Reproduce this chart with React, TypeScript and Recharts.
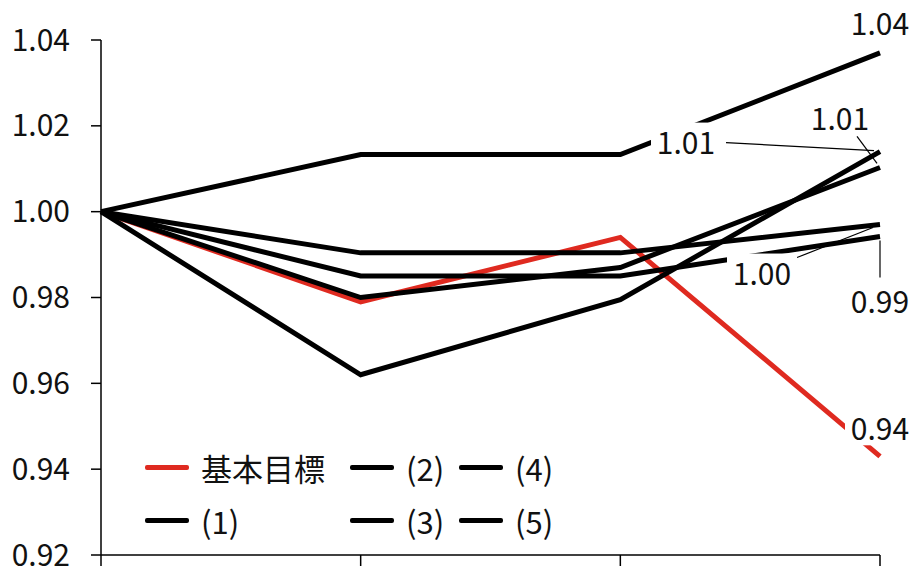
import { LineChart, Line, XAxis, YAxis, LabelList } from 'recharts'

const periods = ['P0', 'P1', 'P2', 'P3']
const seriesNames = ['基本目標', '(1)', '(2)', '(3)', '(4)', '(5)']
const baseTarget = [1.0, 0.979, 0.994, 0.943]
const case1 = [1.0, 1.0133, 1.0133, 1.037]
const case2 = [1.0, 0.962, 0.9795, 1.014]
const case3 = [1.0, 0.98, 0.987, 1.0103]
const case4 = [1.0, 0.9904, 0.9904, 0.997]
const case5 = [1.0, 0.985, 0.985, 0.9942]
const yTicks = [0.92, 0.94, 0.96, 0.98, 1.0, 1.02, 1.04]

const allSeries = [baseTarget, case1, case2, case3, case4, case5]
const colors = ['#df2a20', '#000', '#000', '#000', '#000', '#000']

const data = periods.map((p, i) => {
  const row: Record<string, string | number> = { period: p }
  allSeries.forEach((s, k) => (row['s' + k] = s[i]))
  return row
})

// where each end label sits relative to its point, plus leader line
// leader: [x1,y1] from label centre, [x2,y2] from the data point
const labelPos = [
  { dx: 0, dy: -29 },
  { dx: 0, dy: -31 },
  { dx: -194, dy: -11, leader: [40, 2, -6, -1] },
  { dx: -40, dy: -50, leader: [17, 19, -3, -4] },
  { dx: -118, dy: 47, leader: [35, -14, -7, 3] },
  { dx: 0, dy: 63, leader: [0, -22, 0, 4] },
]

const FONT = "'Noto Sans CJK JP', 'Noto Sans', sans-serif"

function endLabel(k: number) {
  return (props: any) => {
    const { x, y, value, index } = props
    if (index !== periods.length - 1) return null
    const p = labelPos[k]
    const cx = x + p.dx
    const cy = y + p.dy
    const w = 70
    const h = 36
    return (
      <g>
        {p.leader && (
          <line
            x1={cx + p.leader[0]}
            y1={cy + p.leader[1]}
            x2={x + p.leader[2]}
            y2={y + p.leader[3]}
            stroke="#000"
            strokeWidth={1.2}
          />
        )}
        <rect x={cx - w / 2} y={cy - h / 2} width={w} height={h} fill="#fff" />
        <text x={cx} y={cy} textAnchor="middle" dominantBaseline="central" fontSize={30} fontFamily={FONT} fill="#111">
          {Number(value).toFixed(2)}
        </text>
      </g>
    )
  }
}

const legendCols = [145, 350, 459]
const legendRows = [467, 520]

export default function App() {
  return (
    <div style={{ position: 'absolute', left: 0, top: 0, width: 913, height: 566, background: '#fff', overflow: 'hidden' }}>
      <LineChart width={913} height={566} data={data} margin={{ top: 40, right: 33, bottom: 0, left: 0 }}>
        <XAxis
          dataKey="period"
          height={11}
          tickSize={14}
          interval={0}
          tickFormatter={() => ''}
          axisLine={{ stroke: '#000', strokeWidth: 1.5 }}
          tickLine={{ stroke: '#000', strokeWidth: 1.5 }}
        />
        <YAxis
          type="number"
          domain={[0.92, 1.04]}
          ticks={yTicks}
          interval={0}
          width={101}
          tickSize={10}
          tickMargin={21}
          tickFormatter={(v: number) => v.toFixed(2)}
          tick={{ fill: '#111', fontSize: 30, fontFamily: FONT }}
          axisLine={{ stroke: '#000', strokeWidth: 1.5 }}
          tickLine={{ stroke: '#000', strokeWidth: 1.5 }}
          allowDataOverflow
        />
        {allSeries.map((_, k) => (
          <Line
            key={k}
            type="linear"
            dataKey={'s' + k}
            name={seriesNames[k]}
            stroke={colors[k]}
            strokeWidth={5}
            dot={false}
            activeDot={false}
            isAnimationActive={false}
          />
        ))}
        {allSeries.map((_, k) => (
          <Line
            key={'lbl' + k}
            type="linear"
            dataKey={'s' + k}
            stroke="none"
            dot={false}
            activeDot={false}
            legendType="none"
            isAnimationActive={false}
          >
            <LabelList dataKey={'s' + k} content={endLabel(k)} />
          </Line>
        ))}
      </LineChart>
      {seriesNames.map((name, k) => {
        const col = Math.floor(k / 2)
        const row = k % 2
        return (
          <div
            key={name}
            style={{
              position: 'absolute',
              left: legendCols[col],
              top: legendRows[row] - 20,
              height: 40,
              display: 'flex',
              alignItems: 'center',
              fontFamily: FONT,
              fontSize: 31,
              color: '#111',
              whiteSpace: 'nowrap',
            }}
          >
            <span style={{ display: 'inline-block', width: 44, height: 5, borderRadius: 2, background: colors[k], marginRight: 12 }} />
            {name}
          </div>
        )
      })}
    </div>
  )
}
